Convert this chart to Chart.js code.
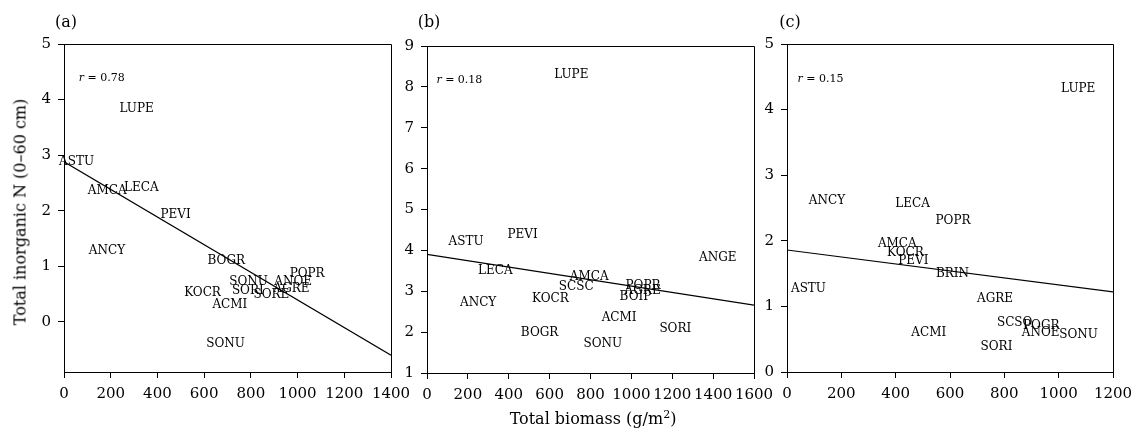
<!DOCTYPE html>
<html lang="en">
<head>
  <meta charset="UTF-8">
  <title>Total inorganic N vs total biomass</title>
  <script src="https://cdn.jsdelivr.net/npm/chart.js"></script>
  <style>
    body { margin: 0; background: #fff; font-family: "DejaVu Serif", serif; }
    #wrap { position: relative; width: 1131px; height: 430px; overflow: hidden; }
    canvas { position: absolute; top: 0; }
    .txt { position: absolute; color: #000; white-space: nowrap; }
    #ytitle { left: 20px; top: 212px; font-size: 16px; transform: translate(-50%, -50%) rotate(-90deg); }
    #xtitle { left: 593px; top: 418px; font-size: 16px; transform: translate(-50%, -50%); }
    .panel { font-size: 16px; transform: translate(-50%, -50%); top: 21px; }
  </style>
</head>
<body>
<div id="wrap">
  <canvas id="chartA" width="420" height="400" style="left:0px"></canvas>
  <canvas id="chartB" width="395" height="401" style="left:390px"></canvas>
  <canvas id="chartC" width="400" height="400" style="left:750px"></canvas>
  <div class="txt panel" style="left:66px">(a)</div>
  <div class="txt panel" style="left:429px">(b)</div>
  <div class="txt panel" style="left:790px">(c)</div>
  <div class="txt" id="ytitle">Total inorganic N (0–60 cm)</div>
  <div class="txt" id="xtitle">Total biomass (g/m<sup style="font-size:11px">2</sup>)</div>
</div>
<script>
  // panel (a)
  const namesA = ['LUPE','ASTU','AMCA','LECA','PEVI','ANCY','BOGR','POPR','SONU','ANOE','AGRE','SORI','SORE','KOCR','ACMI','SONU'];
  const xA = [311, 54, 185, 331, 478, 184, 695, 1041, 790, 981, 974, 787, 888, 593, 710, 692];
  const yA = [3.83, 2.88, 2.35, 2.41, 1.93, 1.28, 1.10, 0.86, 0.72, 0.72, 0.60, 0.56, 0.48, 0.53, 0.31, -0.39];
  const fitXA = [0, 1400];
  const fitYA = [2.88, -0.60];
  const xTicksA = [0, 200, 400, 600, 800, 1000, 1200, 1400];
  const yTicksA = [0, 1, 2, 3, 4, 5];

  // panel (b)
  const namesB = ['LUPE','ASTU','PEVI','ANGE','LECA','AMCA','SCSC','POPR','AGRE','BOIP','ANCY','KOCR','ACMI','SORI','BOGR','SONU'];
  const xB = [706, 191, 468, 1423, 334, 794, 730, 1057, 1055, 1020, 250, 604, 940, 1215, 551, 860];
  const yB = [8.30, 4.20, 4.37, 3.81, 3.51, 3.36, 3.10, 3.14, 3.00, 2.86, 2.71, 2.82, 2.34, 2.09, 1.98, 1.72];
  const fitXB = [0, 1600];
  const fitYB = [3.90, 2.66];
  const xTicksB = [0, 200, 400, 600, 800, 1000, 1200, 1400, 1600];
  const yTicksB = [1, 2, 3, 4, 5, 6, 7, 8, 9];

  // panel (c)
  const namesC = ['LUPE','ANCY','LECA','POPR','AMCA','KOCR','PEVI','BRIN','ASTU','AGRE','SCSO','POGR','ANOE','SONU','ACMI','SORI'];
  const xC = [1072, 147, 462, 611, 406, 436, 465, 609, 79, 766, 838, 936, 934, 1073, 522, 771];
  const yC = [4.31, 2.61, 2.57, 2.30, 1.95, 1.81, 1.69, 1.49, 1.27, 1.11, 0.75, 0.70, 0.60, 0.57, 0.59, 0.39];
  const fitXC = [0, 1200];
  const fitYC = [1.86, 1.22];
  const xTicksC = [0, 200, 400, 600, 800, 1000, 1200];
  const yTicksC = [0, 1, 2, 3, 4, 5];

  const FONT = '"DejaVu Serif", serif';

  const labelPlugin = {
    id: 'labels',
    afterDatasetsDraw(chart, args, opts) {
      const ctx = chart.ctx;
      const a = chart.chartArea;
      ctx.save();
      // box around plot
      ctx.strokeStyle = '#000';
      ctx.lineWidth = 1;
      ctx.beginPath();
      ctx.moveTo(a.left, a.top + 0.5);
      ctx.lineTo(a.right + 0.5, a.top + 0.5);
      ctx.lineTo(a.right + 0.5, a.bottom);
      ctx.stroke();
      // point labels
      const meta = chart.getDatasetMeta(0);
      ctx.fillStyle = '#000';
      ctx.font = '12px ' + FONT;
      ctx.textAlign = 'center';
      ctx.textBaseline = 'middle';
      meta.data.forEach((pt, i) => {
        ctx.fillText(opts.names[i], pt.x, pt.y);
      });
      // r value
      const rx = chart.scales.x.getPixelForValue(opts.rPos[0]);
      const ry = chart.scales.y.getPixelForValue(opts.rPos[1]);
      ctx.textAlign = 'left';
      ctx.font = 'italic 11px ' + FONT;
      ctx.fillText('r', rx, ry);
      const w = ctx.measureText('r').width;
      ctx.font = '11px ' + FONT;
      ctx.fillText(' = ' + opts.r, rx + w, ry);
      ctx.restore();
    }
  };

  function makeChart(id, names, xs, ys, fx, fy, xTicks, yTicks, yMin, yMax, yWidth, pad, r, rPos) {
    const pts = xs.map((x, i) => ({ x: x, y: ys[i] }));
    const fit = fx.map((x, i) => ({ x: x, y: fy[i] }));
    const axisCommon = () => ({
      grid: { drawOnChartArea: false, drawTicks: true, tickLength: 6, color: '#000' },
      border: { display: true, color: '#000', width: 1 },
      ticks: {
        color: '#000', font: { family: FONT, size: 15 }, padding: 7,
        maxRotation: 0, minRotation: 0, autoSkip: false,
        callback: v => String(v)
      }
    });
    return new Chart(document.getElementById(id), {
      type: 'scatter',
      data: {
        datasets: [
          { data: pts, pointRadius: 0, pointHoverRadius: 0, showLine: false },
          { data: fit, pointRadius: 0, showLine: true, borderColor: '#000', borderWidth: 1.2 }
        ]
      },
      options: {
        responsive: false,
        animation: false,
        events: [],
        layout: { padding: pad },
        plugins: {
          legend: { display: false },
          tooltip: { enabled: false },
          labels: { names: names, r: r, rPos: rPos }
        },
        scales: {
          x: Object.assign(axisCommon(), {
            type: 'linear',
            min: xTicks[0],
            max: xTicks[xTicks.length - 1],
            afterBuildTicks: s => { s.ticks = xTicks.map(v => ({ value: v })); },
            afterFit: s => { s.height = 28; }
          }),
          y: Object.assign(axisCommon(), {
            type: 'linear',
            min: yMin,
            max: yMax,
            afterBuildTicks: s => { s.ticks = yTicks.map(v => ({ value: v })); },
            afterFit: s => { s.width = yWidth; }
          })
        }
      },
      plugins: [labelPlugin]
    });
  }

  makeChart('chartA', namesA, xA, yA, fitXA, fitYA, xTicksA, yTicksA, -0.9, 5, 64,
    { left: 0, right: 29, top: 44, bottom: 0 }, '0.78', [63, 4.38]);
  makeChart('chartB', namesB, xB, yB, fitXB, fitYB, xTicksB, yTicksB, 1, 9, 37,
    { left: 0, right: 31, top: 46, bottom: 0 }, '0.18', [46, 8.16]);
  makeChart('chartC', namesC, xC, yC, fitXC, fitYC, xTicksC, yTicksC, 0, 5, 37,
    { left: 0, right: 37, top: 44, bottom: 0 }, '0.15', [39, 4.46]);
</script>
</body>
</html>
